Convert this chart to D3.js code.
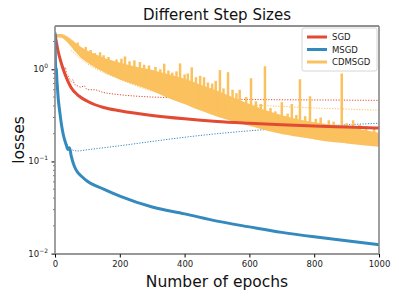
<!DOCTYPE html>
<html>
<head>
<meta charset="utf-8">
<script src="https://cdn.jsdelivr.net/npm/d3@7"></script>
<style>
	body { margin: 0; background: white; }
	svg { display: block; font-family: 'DejaVu Sans', sans-serif; }
</style>
</head>
<body>
<div id="app"></div>
<script>
// series names and colours
const seriesNames = ['SGD', 'MSGD', 'CDMSGD']
const seriesColors = ['#E24A33', '#348ABD', '#FBC15E']

// SGD training loss (epoch, loss)
const sgdTrain = [[0, 2.4], [5, 1.9], [10, 1.55], [20, 1.15], [30, 0.9], [40, 0.74], [50, 0.63], [75, 0.51], [100, 0.45], [150, 0.385], [200, 0.355], [300, 0.315], [400, 0.29], [500, 0.272], [600, 0.26], [700, 0.25], [800, 0.242], [900, 0.236], [1000, 0.23]]
// SGD dotted curve
const sgdTest = [[28, 0.95], [32, 1.05], [36, 0.88], [40, 0.85], [45, 0.78], [50, 0.74], [55, 0.77], [60, 0.69], [70, 0.66], [80, 0.64], [90, 0.66], [100, 0.6], [120, 0.6], [150, 0.56], [200, 0.53], [300, 0.5], [400, 0.49], [500, 0.48], [600, 0.47], [800, 0.465], [1000, 0.46]]

// MSGD training loss
const msgdTrain = [[0, 2.5], [2, 1.05], [4, 1.0], [6, 0.75], [8, 0.6], [10, 0.48], [15, 0.34], [20, 0.25], [25, 0.2], [30, 0.17], [35, 0.15], [40, 0.135], [45, 0.14], [50, 0.115], [60, 0.088], [70, 0.076], [80, 0.07], [100, 0.061], [150, 0.05], [200, 0.042], [300, 0.032], [400, 0.027], [500, 0.0225], [600, 0.0195], [700, 0.017], [800, 0.0152], [900, 0.0138], [1000, 0.0125]]
// MSGD dotted curve
const msgdTest = [[30, 0.16], [40, 0.15], [50, 0.135], [70, 0.13], [100, 0.134], [200, 0.148], [300, 0.165], [400, 0.183], [500, 0.2], [600, 0.215], [700, 0.228], [800, 0.24], [900, 0.25], [1000, 0.26]]

// CDMSGD training loss: noisy band (low / high edge) plus spikes
const cdEpochs = [0, 20, 40, 60, 80, 100, 150, 200, 250, 300, 350, 400, 450, 500, 550, 600, 650, 700, 750, 800, 850, 900, 950, 1000]
const cdLow = [2.28, 2.26, 2.0, 1.65, 1.38, 1.22, 0.96, 0.8, 0.69, 0.6, 0.5, 0.43, 0.365, 0.315, 0.28, 0.25, 0.223, 0.203, 0.19, 0.178, 0.168, 0.161, 0.154, 0.148]
const cdHigh = [2.36, 2.35, 2.18, 1.92, 1.7, 1.55, 1.3, 1.15, 1.04, 0.96, 0.86, 0.77, 0.66, 0.57, 0.48, 0.41, 0.35, 0.31, 0.28, 0.26, 0.245, 0.23, 0.215, 0.2]
const cdSpikes = [[70, 1.95], [95, 1.75], [110, 1.62], [123, 1.5], [139, 1.53], [150, 1.42], [165, 1.36], [190, 1.28], [205, 1.3], [216, 1.38], [230, 1.22], [245, 1.25], [262, 1.2], [275, 1.12], [290, 1.1], [310, 1.06], [325, 1.0], [337, 1.15], [350, 0.97], [362, 0.92], [375, 0.95], [386, 1.16], [400, 0.88], [410, 0.9], [422, 1.05], [435, 0.82], [448, 0.85], [460, 0.82], [472, 0.72], [485, 0.7], [496, 0.75], [509, 0.98], [520, 0.62], [534, 0.93], [548, 0.6], [560, 0.55], [570, 0.6], [590, 0.5], [605, 0.8], [620, 0.45], [635, 0.42], [648, 1.08], [665, 0.38], [680, 0.35], [700, 0.44], [718, 0.33], [731, 0.42], [745, 0.32], [756, 0.78], [772, 0.31], [787, 0.51], [805, 0.29], [820, 0.3], [845, 0.28], [860, 0.27], [885, 0.9], [900, 0.26], [920, 0.28], [940, 0.25], [960, 0.24], [985, 0.23]]
// CDMSGD dotted curve
const cdTest = [[50, 1.6], [100, 1.15], [200, 0.78], [300, 0.58], [400, 0.48], [450, 0.45], [500, 0.43], [600, 0.41], [700, 0.395], [800, 0.38], [900, 0.37], [1000, 0.36]]

// ticks
const xTicks = [0, 200, 400, 600, 800, 1000]
const yTicks = [0.01, 0.1, 1]
const yTickExp = ['\u22122', '\u22121', '0']

const width = 399
const height = 298
const margin = { top: 26, right: 20, bottom: 44, left: 55 }
const plotW = width - margin.left - margin.right
const plotH = height - margin.top - margin.bottom

const svg = d3.select('#app').append('svg')
	.attr('width', width)
	.attr('height', height)

const x = d3.scaleLinear().domain([0, 1000]).range([margin.left, margin.left + plotW])
const y = d3.scaleLog().domain([0.0099, 2.95]).range([margin.top + plotH, margin.top])

svg.append('defs').append('clipPath').attr('id', 'clip')
	.append('rect')
	.attr('x', margin.left).attr('y', margin.top)
	.attr('width', plotW).attr('height', plotH)

const plot = svg.append('g').attr('clip-path', 'url(#clip)')

const line = d3.line()
	.x((d) => x(d[0]))
	.y((d) => y(d[1]))
	.curve(d3.curveMonotoneX)

// dotted curves first
const dotted = [[sgdTest, 0], [msgdTest, 1], [cdTest, 2]]
dotted.forEach(([data, i]) => {
	plot.append('path')
		.attr('d', line(data))
		.attr('fill', 'none')
		.attr('stroke', seriesColors[i])
		.attr('stroke-width', 1)
		.attr('stroke-dasharray', '1.2,1.5')
})

// CDMSGD noisy band
const band = d3.area()
	.x((d) => x(d))
	.y0((d, i) => y(cdLow[i]))
	.y1((d, i) => y(cdHigh[i]))
	.curve(d3.curveMonotoneX)

plot.append('path')
	.attr('d', band(cdEpochs))
	.attr('fill', seriesColors[2])
	.attr('stroke', seriesColors[2])
	.attr('stroke-width', 2)

// spikes rising out of the band
plot.selectAll('line.spike')
	.data(cdSpikes)
	.enter()
	.append('line')
	.attr('class', 'spike')
	.attr('x1', (d) => x(d[0]))
	.attr('x2', (d) => x(d[0]))
	.attr('y1', (d) => {
		const i = d3.bisectLeft(cdEpochs, d[0])
		return y(cdLow[Math.max(0, i - 1)])
	})
	.attr('y2', (d) => y(d[1]))
	.attr('stroke', seriesColors[2])
	.attr('stroke-width', 2.5)

// SGD and MSGD training curves
plot.append('path')
	.attr('d', line(sgdTrain))
	.attr('fill', 'none')
	.attr('stroke', seriesColors[0])
	.attr('stroke-width', 3)

plot.append('path')
	.attr('d', line(msgdTrain))
	.attr('fill', 'none')
	.attr('stroke', seriesColors[1])
	.attr('stroke-width', 3)

// axes
const xAxis = d3.axisBottom(x).tickValues(xTicks).tickFormat(d3.format('d')).tickSize(3.5).tickPadding(3)
svg.append('g')
	.attr('transform', `translate(0, ${margin.top + plotH})`)
	.call(xAxis)
	.call((g) => g.select('.domain').remove())
	.selectAll('text')
	.attr('font-size', '8.5px')
	.attr('font-family', 'DejaVu Sans')
	.attr('fill', '#222')

const yAxis = d3.axisLeft(y).tickValues(yTicks).tickSize(3.5).tickPadding(3).tickFormat(() => '')
const yg = svg.append('g')
	.attr('transform', `translate(${margin.left}, 0)`)
	.call(yAxis)
yg.select('.domain').remove()

// minor log ticks
const minor = []
;[0.01, 0.1, 1].forEach((base) => {
	for (let k = 2; k <= 9; k++) {
		const v = base * k
		if (v < 2.95) minor.push(v)
	}
})
yg.selectAll('line.minor')
	.data(minor)
	.enter()
	.append('line')
	.attr('x1', 0).attr('x2', -2)
	.attr('y1', (d) => y(d)).attr('y2', (d) => y(d))
	.attr('stroke', '#222')
	.attr('stroke-width', 0.6)

// y tick labels with superscript exponents
yTicks.forEach((v, i) => {
	const t = svg.append('text')
		.attr('x', margin.left - 7)
		.attr('y', y(v) + 3)
		.attr('text-anchor', 'end')
		.attr('font-size', '8.5px')
		.attr('fill', '#222')
	t.append('tspan').text('10')
	t.append('tspan')
		.attr('dy', -4)
		.attr('font-size', '6px')
		.text(yTickExp[i])
})

// spines
svg.append('line')
	.attr('x1', margin.left).attr('x2', margin.left + plotW)
	.attr('y1', margin.top).attr('y2', margin.top)
	.attr('stroke', '#222').attr('stroke-width', 1)
svg.append('line')
	.attr('x1', margin.left).attr('x2', margin.left + plotW)
	.attr('y1', margin.top + plotH).attr('y2', margin.top + plotH)
	.attr('stroke', '#333').attr('stroke-width', 1.2)
svg.append('line')
	.attr('x1', margin.left).attr('x2', margin.left)
	.attr('y1', margin.top).attr('y2', margin.top + plotH)
	.attr('stroke', '#888').attr('stroke-width', 1.6)
svg.append('line')
	.attr('x1', margin.left + plotW).attr('x2', margin.left + plotW)
	.attr('y1', margin.top).attr('y2', margin.top + plotH)
	.attr('stroke', '#888').attr('stroke-width', 1.6)

// title and axis labels
svg.append('text')
	.attr('x', margin.left + plotW / 2)
	.attr('y', 20)
	.attr('text-anchor', 'middle')
	.attr('font-size', '15px')
	.attr('fill', '#111')
	.text('Different Step Sizes')

svg.append('text')
	.attr('x', margin.left + plotW / 2)
	.attr('y', 287)
	.attr('text-anchor', 'middle')
	.attr('font-size', '15.5px')
	.attr('fill', '#111')
	.text('Number of epochs')

svg.append('text')
	.attr('transform', `translate(24, ${margin.top + plotH / 2}) rotate(-90)`)
	.attr('text-anchor', 'middle')
	.attr('font-size', '15.5px')
	.attr('fill', '#111')
	.text('losses')

// legend
const legend = svg.append('g').attr('transform', 'translate(302, 28)')
legend.append('rect')
	.attr('width', 75)
	.attr('height', 43)
	.attr('rx', 2)
	.attr('fill', 'white')
	.attr('fill-opacity', 0.85)
	.attr('stroke', '#ccc')
	.attr('stroke-width', 0.8)

seriesNames.forEach((name, i) => {
	const ly = 9 + i * 12.5
	legend.append('line')
		.attr('x1', 5).attr('x2', 25)
		.attr('y1', ly).attr('y2', ly)
		.attr('stroke', seriesColors[i])
		.attr('stroke-width', 3)
	legend.append('text')
		.attr('x', 30)
		.attr('y', ly + 3)
		.attr('font-size', '8.5px')
		.attr('fill', '#222')
		.text(name)
})
</script>
</body>
</html>
